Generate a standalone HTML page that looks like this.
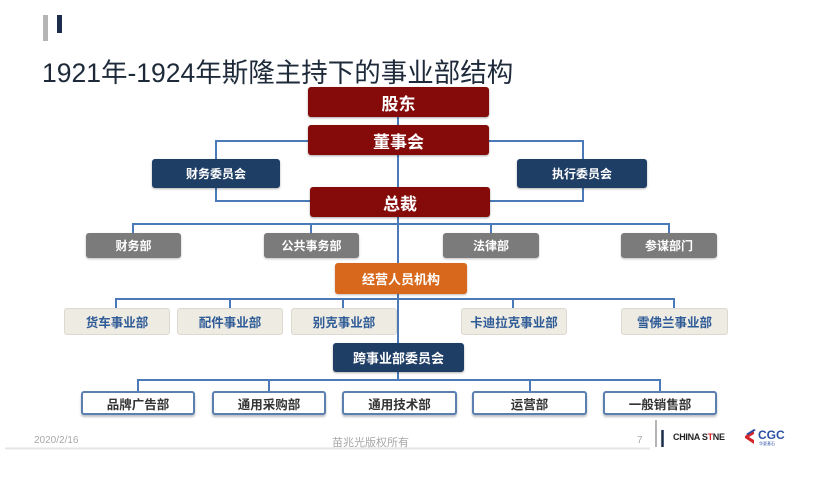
<!DOCTYPE html>
<html><head><meta charset="utf-8"><style>
html,body{margin:0;padding:0;background:#fff;}
#c{position:relative;width:836px;height:486px;overflow:hidden;background:#fff;font-family:"Liberation Sans","Noto Sans CJK SC",sans-serif;}
.b{position:absolute;display:flex;align-items:center;justify-content:center;box-sizing:border-box;white-space:nowrap;}
.red{background:#850b0b;color:#fff;font-weight:bold;font-size:17px;border-radius:3px;box-shadow:0 1px 2px rgba(0,0,0,.35);}
.navy{background:#1f3e66;color:#fff;font-weight:bold;font-size:12px;border-radius:3px;box-shadow:0 1px 2px rgba(0,0,0,.3);}
.gray{background:#7b7b7b;color:#fff;font-weight:bold;font-size:12px;border-radius:3px;box-shadow:0 1px 2px rgba(0,0,0,.25);}
.org{background:#d7681c;color:#fff;font-weight:bold;font-size:13px;border-radius:3px;box-shadow:0 1px 2px rgba(0,0,0,.25);}
.biz{background:#eeebe3;color:#2f5b96;font-weight:bold;font-size:12.5px;border-radius:3px;border:1px solid #dcd9d1;}
.wht{background:#fff;color:#333;font-weight:bold;font-size:12.5px;border-radius:3px;border:2px solid #5b7fae;box-shadow:0 2px 2px rgba(60,70,90,.35);}
.t{position:absolute;white-space:nowrap;}
</style></head><body><div id="c">
<svg width="836" height="486" style="position:absolute;left:0;top:0">
<g stroke="#4a7ab8" stroke-width="2" fill="none">
<line x1="398" y1="117" x2="398" y2="380"/>
<polyline points="308,141 216,141 216,201 310,201"/>
<polyline points="489,141 583,141 583,201 490,201"/>
<line x1="133" y1="224" x2="669" y2="224"/>
<line x1="133" y1="223" x2="133" y2="234"/>
<line x1="311" y1="223" x2="311" y2="234"/>
<line x1="491" y1="223" x2="491" y2="234"/>
<line x1="669" y1="223" x2="669" y2="234"/>
<line x1="116" y1="299" x2="674" y2="299"/>
<line x1="116" y1="298" x2="116" y2="308"/>
<line x1="230" y1="298" x2="230" y2="308"/>
<line x1="343" y1="298" x2="343" y2="308"/>
<line x1="513" y1="298" x2="513" y2="308"/>
<line x1="674" y1="298" x2="674" y2="308"/>
<line x1="138" y1="380" x2="660" y2="380"/>
<line x1="138" y1="379" x2="138" y2="391"/>
<line x1="269" y1="379" x2="269" y2="391"/>
<line x1="530" y1="379" x2="530" y2="391"/>
<line x1="660" y1="379" x2="660" y2="391"/>
</g>
<rect x="43" y="15" width="5" height="26" fill="#b5b5b5"/>
<rect x="57" y="15" width="5" height="18" fill="#1b2d4a"/>
<line x1="5" y1="448.5" x2="650" y2="448.5" stroke="#e6e6e6" stroke-width="2"/>
<line x1="656" y1="420" x2="656" y2="447" stroke="#9a9a9a" stroke-width="1.5"/>
<line x1="662.5" y1="430" x2="662.5" y2="447" stroke="#1b2d4a" stroke-width="2.5"/>
<path d="M745 436 L754 430 L754 434 L749 437 L754 440 L754 444 L745 438 Z" fill="#d6262b"/>
<path d="M746 434 L754 429 L756 430 L748 435 Z" fill="#2b4fa3"/>
</svg>
<div class="t" style="left:42px;top:51px;font-size:26.5px;color:#1e2a3a;">1921年-1924年斯隆主持下的事业部结构</div>

<div class="b red" style="left:308px;top:87px;width:181px;height:30px;">股东</div>
<div class="b red" style="left:308px;top:125px;width:181px;height:30px;">董事会</div>
<div class="b navy" style="left:152px;top:159px;width:128px;height:29px;">财务委员会</div>
<div class="b navy" style="left:517px;top:159px;width:130px;height:29px;">执行委员会</div>
<div class="b red" style="left:310px;top:187px;width:180px;height:30px;">总裁</div>

<div class="b gray" style="left:86px;top:233px;width:95px;height:25px;">财务部</div>
<div class="b gray" style="left:264px;top:233px;width:95px;height:25px;">公共事务部</div>
<div class="b gray" style="left:443px;top:233px;width:96px;height:25px;">法律部</div>
<div class="b gray" style="left:621px;top:233px;width:96px;height:25px;">参谋部门</div>

<div class="b org" style="left:335px;top:263px;width:132px;height:31px;">经营人员机构</div>

<div class="b biz" style="left:64px;top:308px;width:106px;height:27px;">货车事业部</div>
<div class="b biz" style="left:177px;top:308px;width:106px;height:27px;">配件事业部</div>
<div class="b biz" style="left:291px;top:308px;width:106px;height:27px;">别克事业部</div>
<div class="b biz" style="left:461px;top:308px;width:106px;height:27px;">卡迪拉克事业部</div>
<div class="b biz" style="left:621px;top:308px;width:107px;height:27px;">雪佛兰事业部</div>

<div class="b navy" style="left:333px;top:343px;width:131px;height:29px;font-size:13px;">跨事业部委员会</div>

<div class="b wht" style="left:81px;top:391px;width:114px;height:24px;">品牌广告部</div>
<div class="b wht" style="left:212px;top:391px;width:114px;height:24px;">通用采购部</div>
<div class="b wht" style="left:342px;top:391px;width:115px;height:24px;">通用技术部</div>
<div class="b wht" style="left:472px;top:391px;width:115px;height:24px;">运营部</div>
<div class="b wht" style="left:603px;top:391px;width:114px;height:24px;">一般销售部</div>

<div class="t" style="left:34px;top:435px;font-size:10px;color:#a8a8a8;">2020/2/16</div>
<div class="t" style="left:332px;top:434px;font-size:11px;color:#a8a8a8;">苗兆光版权所有</div>
<div class="t" style="left:637px;top:435px;font-size:10px;color:#a8a8a8;">7</div>
<div class="t" style="left:673px;top:432px;font-size:9px;font-weight:bold;color:#222;letter-spacing:-0.3px;">CHINA S<span style="color:#d6262b;">T</span>NE</div>
<div class="t" style="left:758px;top:428px;font-size:12px;font-weight:bold;color:#2b4fa3;">CGC</div>
<div class="t" style="left:759px;top:441px;font-size:4px;color:#2b4fa3;">华夏基石</div>
</div></body></html>
